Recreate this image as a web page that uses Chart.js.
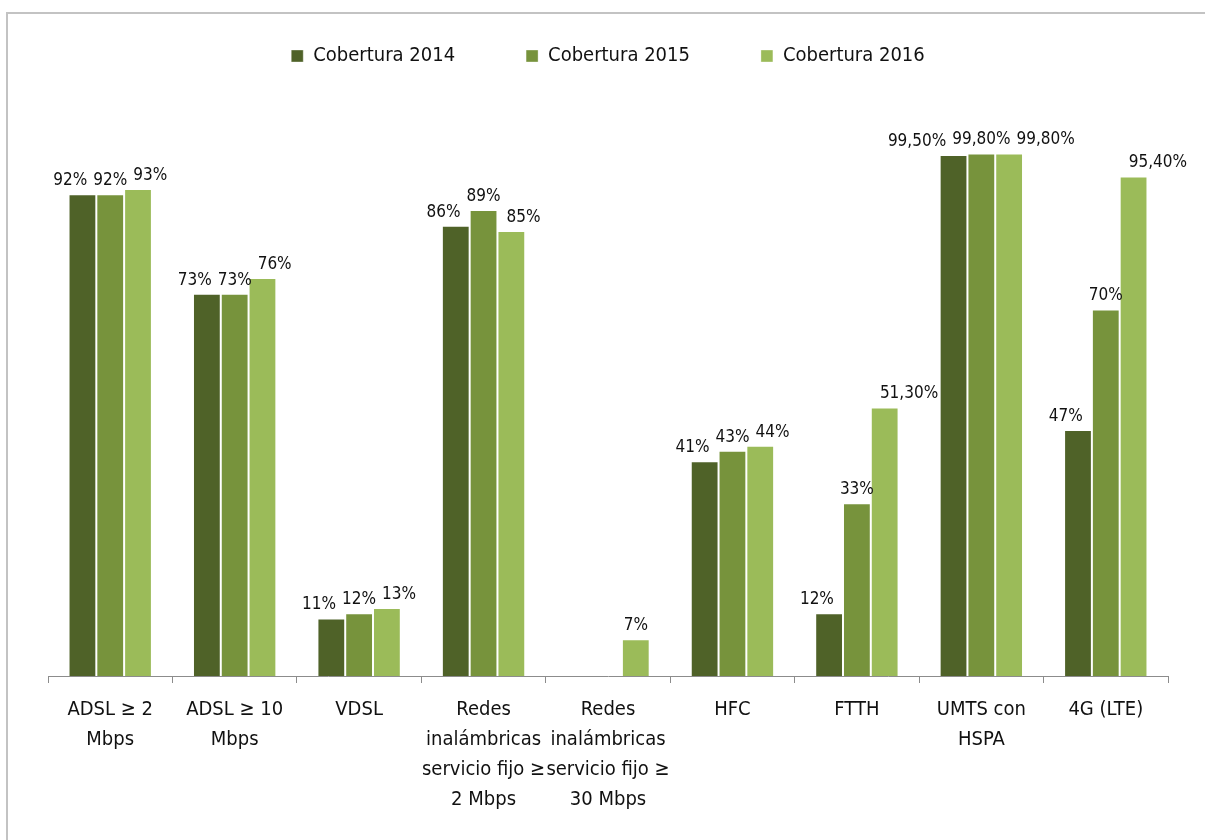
<!DOCTYPE html>
<html>
<head>
<meta charset="utf-8">
<script src="https://cdn.jsdelivr.net/npm/chart.js@4/dist/chart.umd.min.js"></script>
<style>
  body { margin: 0; background: #fff; overflow: hidden; }
  #frame { position: absolute; left: 6px; top: 12px; width: 1300px; height: 900px; border: 2px solid #c3c3c3; }
  #wrap { position: absolute; left: 0; top: 0; width: 1205px; height: 840px; }
</style>
</head>
<body>
<div id="frame"></div>
<div id="wrap"><canvas id="chart"></canvas></div>
<script>
const categories = [
  ['ADSL ≥ 2', 'Mbps'],
  ['ADSL ≥ 10', 'Mbps'],
  ['VDSL'],
  ['Redes', 'inalámbricas', 'servicio fijo ≥', '2 Mbps'],
  ['Redes', 'inalámbricas', 'servicio fijo ≥', '30 Mbps'],
  ['HFC'],
  ['FTTH'],
  ['UMTS con', 'HSPA'],
  ['4G (LTE)']
];
const seriesNames = ['Cobertura 2014', 'Cobertura 2015', 'Cobertura 2016'];
const cov2014 = [92, 73, 11, 86, null, 41, 12, 99.5, 47];
const cov2015 = [92, 73, 12, 89, null, 43, 33, 99.8, 70];
const cov2016 = [93, 76, 13, 85, 7, 44, 51.3, 99.8, 95.4];

const colors = ['#4f6228', '#77933c', '#9bbb59'];
const FONT = "'Liberation Sans Narrow', 'DejaVu Sans Condensed', sans-serif";

function fmt(v) {
  if (Number.isInteger(v)) return v + '%';
  return v.toFixed(2).replace('.', ',') + '%';
}

// labels above bars, pushed apart sideways when they collide (like Excel does)
const barLabels = {
  id: 'barLabels',
  afterDatasetsDraw(chart) {
    const ctx = chart.ctx;
    ctx.save();
    ctx.font = '17px ' + FONT;
    ctx.fillStyle = '#111';
    ctx.textAlign = 'center';
    ctx.textBaseline = 'bottom';
    const gap = 6;
    for (let i = 0; i < categories.length; i++) {
      const items = [];
      chart.data.datasets.forEach((ds, d) => {
        const v = ds.data[i];
        if (v === null || v === undefined) return;
        const bar = chart.getDatasetMeta(d).data[i];
        const text = fmt(v);
        const w = ctx.measureText(text).width;
        items.push({ text, w, cx: bar.x, y: bar.y - 5 });
      });
      if (items.length === 3) {
        const [a, b, c] = items;
        const overlapL = (a.cx + a.w / 2 + gap) - (b.cx - b.w / 2);
        if (overlapL > 0) a.cx -= overlapL;
        const overlapR = (b.cx + b.w / 2 + gap) - (c.cx - c.w / 2);
        if (overlapR > 0) c.cx += overlapR;
      }
      items.forEach(it => ctx.fillText(it.text, it.cx, it.y));
    }
    ctx.restore();
  }
};

new Chart(document.getElementById('chart'), {
  type: 'bar',
  data: {
    labels: categories,
    datasets: [cov2014, cov2015, cov2016].map((data, k) => ({
      label: seriesNames[k],
      data: data,
      backgroundColor: colors[k],
      borderColor: 'rgba(255,255,255,0.35)',
      borderWidth: 1,
      categoryPercentage: 0.67,
      barPercentage: 1
    }))
  },
  options: {
    responsive: true,
    maintainAspectRatio: false,
    animation: false,
    layout: { padding: { left: 48, right: 37, top: -25, bottom: 13 } },
    plugins: {
      legend: {
        position: 'top',
        labels: {
          color: '#111',
          boxWidth: 12,
          boxHeight: 12,
          padding: 71,
          font: { family: FONT, size: 20 }
        }
      },
      tooltip: { enabled: false }
    },
    scales: {
      x: {
        border: { color: '#8c8c8c' },
        grid: { offset: true, drawOnChartArea: false, tickLength: 7, color: '#8c8c8c' },
        ticks: {
          color: '#111',
          padding: 12,
          autoSkip: false,
          maxRotation: 0,
          font: { family: FONT, size: 20, lineHeight: 1.5 }
        }
      },
      y: {
        display: false,
        min: 0,
        max: 114.6
      }
    }
  },
  plugins: [barLabels]
});
</script>
</body>
</html>
